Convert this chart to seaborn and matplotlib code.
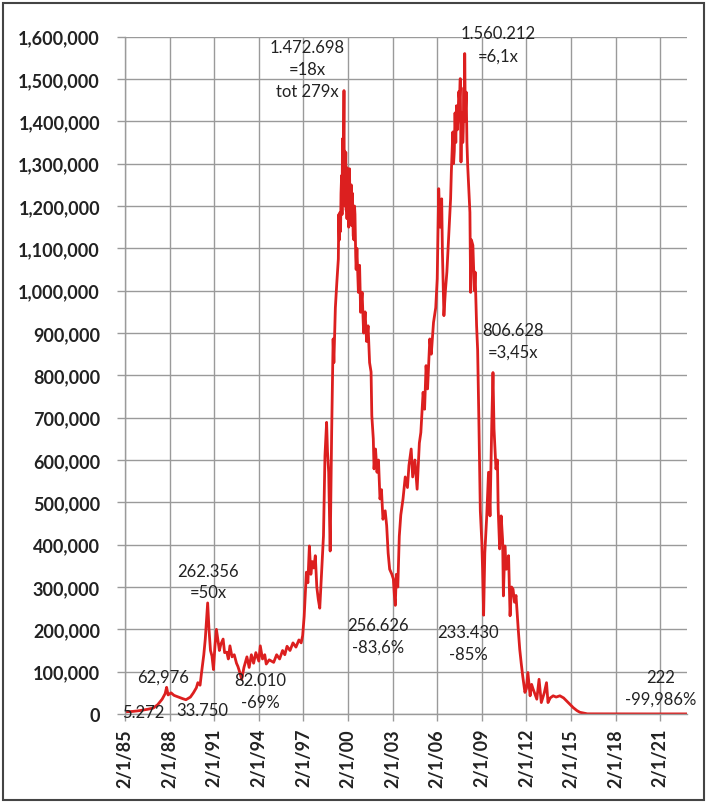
import numpy as np
import pandas as pd
import matplotlib
matplotlib.use("Agg")
import matplotlib.pyplot as plt
from matplotlib.patches import Rectangle
import seaborn as sns

# ---- data (decimal year, price) ----
years = [
    1985.00, 1985.5, 1986.0, 1986.5, 1986.9, 1987.2, 1987.5, 1987.7, 1987.8, 1987.9,
    1988.1, 1988.3, 1988.6, 1988.9, 1989.1, 1989.4, 1989.6, 1989.8, 1989.9, 1990.05,
    1990.15, 1990.3, 1990.4, 1990.5, 1990.56, 1990.65, 1990.75, 1990.85, 1990.95, 1991.05,
    1991.15, 1991.25, 1991.35, 1991.45, 1991.6, 1991.7, 1991.85, 1991.95, 1992.06, 1992.2,
    1992.35, 1992.5, 1992.6, 1992.75, 1992.85, 1993.0, 1993.2, 1993.35, 1993.5, 1993.65,
    1993.8, 1994.0, 1994.1, 1994.25, 1994.4, 1994.5, 1994.7, 1995.0, 1995.2, 1995.4,
    1995.6, 1995.75, 1995.9, 1996.1, 1996.3, 1996.5, 1996.7, 1996.85, 1996.95, 1997.05,
    1997.2, 1997.3, 1997.4, 1997.5, 1997.6, 1997.7, 1997.8, 1997.9, 1998.0, 1998.1,
    1998.25, 1998.35, 1998.45, 1998.56, 1998.62, 1998.7, 1998.8, 1998.9, 1999.0, 1999.05,
    1999.15, 1999.25, 1999.35, 1999.38, 1999.42, 1999.46, 1999.5, 1999.53, 1999.57, 1999.6,
    1999.63, 1999.66, 1999.69, 1999.73, 1999.75, 1999.77, 1999.8, 1999.83, 1999.85, 1999.88,
    1999.9, 1999.93, 1999.95, 1999.98, 2000.0, 2000.03, 2000.05, 2000.08, 2000.1, 2000.14,
    2000.18, 2000.22, 2000.25, 2000.3, 2000.35, 2000.4, 2000.44, 2000.47, 2000.52, 2000.55,
    2000.6, 2000.7, 2000.78, 2000.85, 2000.95,
    2001.05, 2001.15, 2001.25, 2001.35, 2001.45, 2001.55, 2001.6, 2001.7, 2001.75, 2001.85,
    2001.95, 2002.05, 2002.15, 2002.25, 2002.35, 2002.5, 2002.6, 2002.7, 2002.8, 2002.95,
    2003.05, 2003.12, 2003.18, 2003.25, 2003.35, 2003.45, 2003.55, 2003.7, 2003.85, 2004.0,
    2004.1, 2004.25, 2004.35, 2004.5, 2004.65, 2004.8, 2004.9, 2005.05, 2005.15, 2005.25,
    2005.35, 2005.5, 2005.6, 2005.75, 2005.9, 2006.0, 2006.1, 2006.2, 2006.3, 2006.35,
    2006.45, 2006.55, 2006.65, 2006.8, 2006.9, 2006.95, 2007.05, 2007.1, 2007.15, 2007.2,
    2007.25, 2007.3, 2007.35, 2007.4, 2007.45, 2007.5, 2007.55, 2007.58, 2007.6, 2007.64,
    2007.68, 2007.72, 2007.75, 2007.8, 2007.83, 2007.85, 2007.88, 2007.9, 2007.95, 2008.0,
    2008.05, 2008.15, 2008.2, 2008.25, 2008.3, 2008.4, 2008.5, 2008.55, 2008.65, 2008.72,
    2008.8, 2008.9, 2009.0, 2009.05, 2009.12, 2009.2, 2009.33, 2009.45, 2009.55, 2009.67,
    2009.75, 2009.82, 2009.95, 2010.05, 2010.1, 2010.2, 2010.3, 2010.4, 2010.45, 2010.55,
    2010.65, 2010.8, 2010.9, 2011.0, 2011.1, 2011.2, 2011.3, 2011.45, 2011.55, 2011.65,
    2011.75, 2011.9, 2012.0, 2012.1, 2012.25, 2012.35, 2012.45, 2012.6, 2012.7, 2012.85,
    2013.0, 2013.2, 2013.35, 2013.45, 2013.6, 2013.8, 2014.0, 2014.25, 2014.5, 2014.7,
    2014.9, 2015.15, 2015.4, 2015.6, 2016.1, 2017.0, 2018.0, 2019.0, 2020.0, 2021.0,
    2022.8,
]
prices = [
    5272, 6000, 8000, 11000, 14000, 22000, 35000, 48000, 62976, 45000,
    50000, 44000, 40000, 36000, 33750, 40000, 50000, 62000, 74000, 68000,
    98000, 140000, 177000, 230000, 262356, 200000, 150000, 137000, 105000, 160000,
    200000, 175000, 150000, 165000, 177000, 145000, 146000, 130000, 161000, 135000,
    140000, 120000, 112000, 95000, 82010, 110000, 135000, 110000, 140000, 120000,
    145000, 125000, 161000, 130000, 140000, 118000, 128000, 122000, 140000, 130000,
    150000, 140000, 160000, 150000, 168000, 158000, 175000, 168000, 185000, 230000,
    335000, 310000, 397000, 330000, 360000, 345000, 374000, 300000, 271000, 250000,
    350000, 421000, 610000, 689000, 620000, 571000, 385000, 665000, 886000, 830000,
    960000, 1020000, 1075000, 1180000, 1120000, 1185000, 1140000, 1230000, 1272000, 1180000,
    1359000, 1220000, 1300000, 1472698, 1250000, 1330000, 1200000, 1290000, 1327000, 1190000,
    1260000, 1170000, 1290000, 1200000, 1217000, 1280000, 1150000, 1240000, 1288000, 1190000,
    1170000, 1250000, 1154000, 1230000, 1130000, 1120000, 1200000, 1180000, 1080000, 1050000,
    1100000, 996000, 1060000, 949000, 996000,
    900000, 950000, 880000, 917000, 830000, 808000, 705000, 650000, 579000, 626000,
    571000, 600000, 508000, 530000, 460000, 480000, 445000, 380000, 342000, 330000,
    319000, 280000, 256626, 330000, 300000, 420000, 470000, 508000, 560000, 535000,
    587000, 626000, 560000, 600000, 531000, 640000, 665000, 760000, 720000, 823000,
    768000, 886000, 850000, 925000, 960000, 1028000, 1241000, 1150000, 1217000, 1091000,
    941000, 1000000, 1044000, 1150000, 1217000, 1280000, 1375000, 1300000, 1330000, 1420000,
    1350000, 1437000, 1380000, 1406000, 1470000, 1450000, 1501000, 1380000, 1304000, 1400000,
    1420000, 1350000, 1375000, 1480000, 1400000, 1560212, 1450000, 1420000, 1469000, 1350000,
    1296000, 1220000, 1185000, 996000, 1120000, 1107000, 1000000, 1044000, 917000, 860000,
    700000, 480000, 405000, 342000, 233430, 380000, 468000, 571000, 468000, 689000,
    806628, 673000, 579000, 600000, 484000, 390000, 468000, 410000, 279000, 397000,
    342000, 374000, 232000, 300000, 295000, 264000, 280000, 200000, 153000, 120000,
    90000, 51000, 60000, 98000, 43000, 70000, 59000, 45000, 35000, 82000,
    27000, 50000, 74000, 27000, 38000, 43000, 40000, 43000, 38000, 31000,
    24000, 15000, 8000, 4000, 400, 300, 260, 240, 230, 225,
    222,
]

# annotations: (text, decimal year, value)
ann_texts = ["1.472.698\n=18x\ntot 279x", "1.560.212\n=6,1x", "806.628\n=3,45x",
             "262.356\n=50x", "62,976", "5.272", "33.750", "82.010\n-69%",
             "256.626\n-83,6%", "233.430\n-85%", "222\n-99,986%"]
ann_years = [1997.25, 2010.1, 2011.1, 1990.6, 1987.55, 1986.25, 1990.2, 1994.1,
             2002.0, 2008.1, 2021.05]
ann_values = [1524000, 1582000, 882000, 313000, 89000, 4000, 9000, 54000,
              185000, 168000, 61000]

tick_years = list(range(1985, 2022, 3))
tick_labels = [f"2/1/{y % 100:02d}" for y in tick_years]
y_ticks = list(range(0, 1600001, 100000))


def to_date(y):
    base = pd.Timestamp(f"{int(y)}-01-02")
    return base + pd.to_timedelta((y - int(y)) * 365.25, unit="D")


df = pd.DataFrame({"date": [to_date(y) for y in years], "price": prices})

sns.set_theme(style="white")
plt.rcParams['font.family'] = ['Lato', 'DejaVu Sans']

fig = plt.figure(figsize=(7.07, 8.03), dpi=100)
ax = fig.add_axes([125 / 707, 1 - 715 / 803, (687 - 125) / 707, (715 - 37.7) / 803])

sns.lineplot(data=df, x="date", y="price", ax=ax, color="#dc1f1f", linewidth=2.0)

ax.set_xlim(pd.Timestamp("1985-01-02"), to_date(2022.8))
ax.set_ylim(0, 1600000)
ax.set_xticks([pd.Timestamp(f"{y}-01-02") for y in tick_years])
ax.set_xticklabels(tick_labels, rotation=90, fontsize=13, fontweight="bold", color="#222222")
ax.set_yticks(y_ticks)
ax.set_yticklabels([f"{v:,}" for v in y_ticks], fontsize=13, fontweight="bold", color="#222222")
ax.set_xlabel("")
ax.set_ylabel("")
ax.grid(True, color="#9a9a9a", linewidth=1.0)
ax.set_axisbelow(True)
ax.tick_params(axis="y", length=6, width=1, color="#9a9a9a", pad=12, left=True)
ax.tick_params(axis="x", length=5, width=1, color="#9a9a9a", pad=5, bottom=True)
for s in ["top", "right"]:
    ax.spines[s].set_visible(False)
for s in ["left", "bottom"]:
    ax.spines[s].set_color("#9a9a9a")
    ax.spines[s].set_linewidth(1.0)

for t, yv, v in zip(ann_texts, ann_years, ann_values):
    ax.text(to_date(yv), v, t, ha="center", va="center", fontsize=12,
            color="#222222", linespacing=1.45, clip_on=False)

fig.patches.append(Rectangle((3 / 707, 2 / 803), 701 / 707, 797 / 803,
                             transform=fig.transFigure, fill=False,
                             edgecolor="#444444", linewidth=1.5))

fig.savefig("out.png", dpi=100)
